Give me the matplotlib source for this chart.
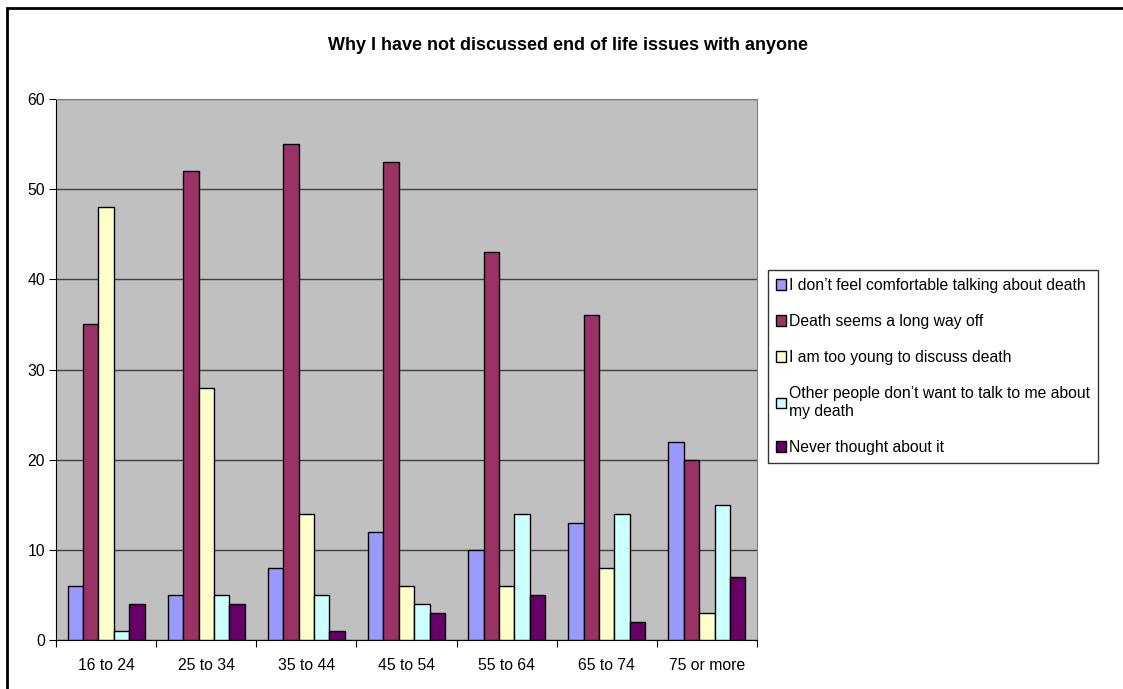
import matplotlib.pyplot as plt
import numpy as np
from matplotlib.patches import Patch, Rectangle

plt.rcParams['font.family'] = ['Liberation Sans', 'DejaVu Sans']
plt.rcParams['font.size'] = 11.3

age_groups = ['16 to 24', '25 to 34', '35 to 44', '45 to 54', '55 to 64', '65 to 74', '75 or more']
reasons = [
    'I don\u2019t feel comfortable talking about death',
    'Death seems a long way off',
    'I am too young to discuss death',
    'Other people don\u2019t want to talk to me about\nmy death',
    'Never thought about it',
]
uncomfortable = [6, 5, 8, 12, 10, 13, 22]
long_way_off = [35, 52, 55, 53, 43, 36, 20]
too_young = [48, 28, 14, 6, 6, 8, 3]
others_wont_talk = [1, 5, 5, 4, 14, 14, 15]
never_thought = [4, 4, 1, 3, 5, 2, 7]
series = [uncomfortable, long_way_off, too_young, others_wont_talk, never_thought]
colors = ['#9999FF', '#993366', '#FFFFCC', '#CCFFFF', '#660066']

W, H = 1123, 689
fig = plt.figure(figsize=(W / 100, H / 100), dpi=100)

# outer chart frame (only top/left fall inside the image)
fig.patches.append(Rectangle((7 / W, -0.1), 1.2, 1 - 8 / H + 0.1, transform=fig.transFigure,
                             fill=False, edgecolor='black', linewidth=2))

ax = fig.add_axes([56 / W, (H - 640) / H, (757 - 56) / W, (640 - 99) / H])
ax.set_facecolor('#C0C0C0')

x = np.arange(len(age_groups))
n = len(series)
bw = 1 / (n + 1.5)
for i, (vals, c) in enumerate(zip(series, colors)):
    ax.bar(x + (i - (n - 1) / 2) * bw, vals, width=bw, color=c, edgecolor='black',
           linewidth=1, label=reasons[i], zorder=3)

ax.set_xlim(-0.5, len(age_groups) - 0.5)
ax.set_ylim(0, 60)
ax.set_yticks(range(0, 61, 10))
ax.yaxis.grid(True, color='#404040', linewidth=1, zorder=1)

ax.set_xticks(np.arange(len(age_groups) + 1) - 0.5)
ax.set_xticklabels([])
ax.set_xticks(x, minor=True)
ax.set_xticklabels(age_groups, minor=True)
ax.tick_params(axis='x', which='major', direction='out', length=5, color='black')
ax.tick_params(axis='x', which='minor', length=0, pad=13)
ax.tick_params(axis='y', direction='out', length=5, pad=3)

for side in ['top', 'right']:
    ax.spines[side].set_color('#808080')
ax.spines['left'].set_color('black')
ax.spines['bottom'].set_color('black')

fig.text(568 / W, 1 - 45 / H, 'Why I have not discussed end of life issues with anyone',
         ha='center', va='center', fontsize=13, fontweight='bold')

handles = [Patch(facecolor=c, edgecolor='black', linewidth=1) for c in colors]
leg = fig.legend(handles, reasons, loc='upper left', bbox_to_anchor=(768 / W, 1 - 270 / H),
                 borderaxespad=0, frameon=True, fancybox=False, shadow=False,
                 handlelength=0.65, handleheight=0.65, handletextpad=0.2,
                 labelspacing=1.35, borderpad=0.5, fontsize=11.3)
leg.get_frame().set_edgecolor('black')
leg.get_frame().set_linewidth(1)

fig.savefig('out.png', dpi=100)
